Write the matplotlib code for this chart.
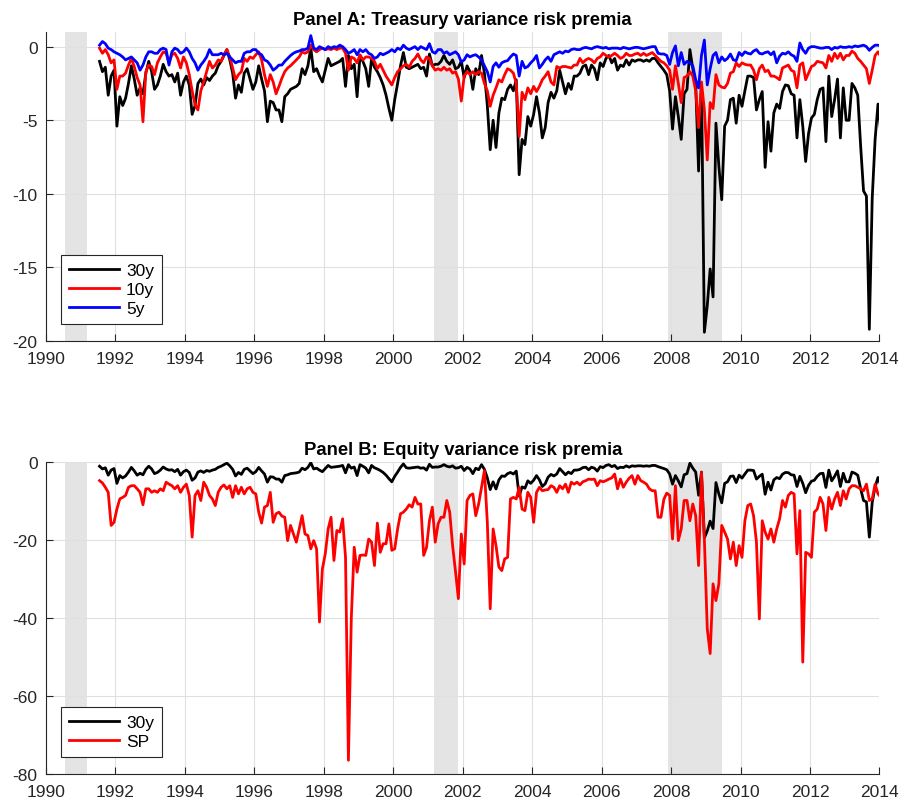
import numpy as np
import matplotlib.pyplot as plt

plt.rcParams['font.family'] = ['Liberation Sans', 'DejaVu Sans']
plt.rcParams['axes.unicode_minus'] = False

# monthly series, first value is July 1991
thirty_y = [
    -1.0, -1.7, -1.4, -3.3, -2.0, -1.6,
    -5.4, -3.4, -4.0, -3.5, -2.5, -1.3, -2.2, -3.3, -2.8, -3.2, -1.8, -1.0,
    -1.7, -2.9, -2.6, -2.0, -1.2, -1.7, -2.0, -1.9, -2.4, -1.8, -3.3, -2.4,
    -2.0, -2.6, -4.6, -4.0, -2.5, -2.2, -2.6, -2.1, -2.3, -2.0, -1.8, -1.3,
    -1.0, -0.6, -0.2, -0.9, -1.8, -3.5, -2.6, -3.1, -1.8, -1.5, -2.2, -2.9,
    -2.4, -1.3, -2.2, -3.0, -5.1, -3.7, -3.8, -4.3, -4.3, -5.1, -3.4, -3.2,
    -2.9, -2.8, -2.7, -2.5, -1.5, -1.9, -1.3, -0.1, -1.7, -1.5, -2.0, -2.4,
    -1.6, -0.8, -1.3, -1.2, -1.1, -1.0, -0.8, -2.7, -0.6, -1.5, -1.2, -3.4,
    -0.6, -1.0, -1.5, -2.7, -0.8, -1.4, -1.7, -2.1, -2.6, -3.3, -4.2, -5.0,
    -3.6, -2.5, -1.3, -0.4, -1.4, -1.5, -1.4, -1.3, -1.2, -1.5, -1.4, -2.0,
    -0.5, -1.3, -1.2, -1.2, -1.0, -0.6, -1.0, -1.2, -0.9, -1.5, -1.4, -1.0,
    -2.1, -1.3, -1.7, -2.9, -1.5, -1.9, -0.6, -1.8, -4.0, -7.0, -5.0, -6.85,
    -4.5, -3.5, -3.6, -2.9, -2.6, -3.0, -2.25, -8.7, -6.3, -6.65, -4.75, -5.4,
    -4.6, -3.4, -4.5, -6.2, -5.5, -3.8, -3.1, -3.5, -3.0, -1.6, -2.4, -3.2,
    -2.5, -2.9, -2.0, -2.0, -1.8, -1.35, -1.25, -1.9, -1.25, -1.5, -2.25, -1.1,
    -1.35, -0.8, -0.6, -1.1, -0.8, -1.6, -1.25, -1.35, -0.9, -1.25, -0.9, -1.0,
    -0.9, -0.9, -1.0, -0.9, -1.0, -0.8, -0.8, -1.1, -1.35, -1.6, -1.9, -3.0,
    -5.6, -3.4, -4.75, -6.3, -3.2, -2.9, -0.2, -1.5, -2.5, -8.45, -2.5, -19.4,
    -17.6, -15.1, -17.0, -5.2, -8.1, -10.4, -5.4, -5.0, -3.6, -3.5, -5.2, -3.3,
    -4.05, -3.0, -2.0, -2.0, -2.1, -4.3, -3.6, -3.05, -8.2, -5.1, -7.1, -4.5,
    -3.9, -4.2, -3.05, -2.6, -2.65, -3.2, -3.3, -6.2, -3.6, -5.4, -7.8, -5.9,
    -4.85, -4.6, -3.6, -2.9, -2.8, -6.45, -2.0, -4.75, -3.6, -2.2, -6.2, -2.8,
    -5.0, -5.0, -2.5, -2.8, -3.3, -6.75, -9.8, -10.15, -19.2, -10.3, -6.3, -3.9,
    -5.9]

ten_y = [
    -0.1, -0.45, -0.2, -0.55, -1.1, -0.9,
    -2.9, -2.0, -2.0, -1.8, -1.25, -0.8, -1.35, -2.1, -2.6, -5.1, -1.7, -1.25,
    -1.35, -1.9, -1.1, -0.7, -0.35, -0.45, -1.1, -0.55, -0.45, -0.8, -1.45, -0.7,
    -1.1, -1.9, -3.0, -3.95, -4.3, -3.0, -2.4, -1.7, -1.0, -1.45, -1.25, -0.9,
    -1.0, -0.55, -0.2, -0.7, -1.45, -2.25, -1.9, -1.7, -0.8, -1.0, -0.7, -0.8,
    -0.55, -0.35, -0.9, -1.9, -2.7, -1.9, -2.4, -3.2, -2.7, -2.15, -1.7, -1.45,
    -1.3, -1.1, -0.9, -0.7, -0.35, -0.45, -0.35, 0.1, -0.2, -0.35, -0.2, -0.1,
    -0.2, -0.15, -0.2, -0.1, -0.2, -0.1, -0.1, -0.45, -1.6, -0.7, -0.8, -1.1,
    -0.55, -0.9, -0.7, -0.7, -0.8, -1.0, -1.5, -1.2, -1.6, -2.0, -2.3, -2.6,
    -2.1, -1.7, -1.5, -1.3, -1.2, -1.4, -1.0, -0.8, -0.5, -0.9, -1.1, -0.7,
    -0.8, -1.3, -1.6, -1.5, -1.6, -1.4, -1.6, -1.5, -1.8, -1.7, -2.2, -3.7,
    -2.0, -1.7, -1.9, -1.7, -1.9, -1.7, -1.8, -2.5, -3.0, -4.05, -3.3, -2.8,
    -2.25, -2.4, -1.9, -1.5, -1.6, -1.8, -2.5, -6.1, -3.1, -3.6, -2.8, -3.2,
    -2.7, -3.05, -2.7, -2.25, -2.0, -1.7, -2.4, -2.6, -1.35, -1.45, -1.35, -1.35,
    -1.4, -1.45, -1.25, -1.25, -0.8, -1.1, -0.9, -0.8, -0.9, -1.1, -0.8, -0.7,
    -0.45, -0.6, -0.7, -0.6, -0.45, -0.6, -0.8, -0.7, -0.45, -0.6, -0.6, -0.5,
    -0.45, -0.6, -0.45, -0.6, -0.5, -0.4, -0.6, -0.8, -1.0, -1.1, -1.3, -1.6,
    -2.9, -1.3, -2.5, -3.8, -2.1, -2.0, -1.7, -2.0, -3.0, -5.5, -2.4, -4.3,
    -7.7, -3.8, -4.2, -1.9, -2.6, -2.75, -2.8, -2.5, -1.8, -1.7, -1.1, -1.35,
    -1.1, -1.2, -1.25, -1.25, -1.6, -2.25, -1.5, -1.25, -1.7, -1.6, -2.0, -2.0,
    -2.1, -2.25, -1.45, -1.35, -1.25, -1.6, -1.7, -2.8, -1.25, -1.1, -2.25, -1.8,
    -1.35, -1.25, -1.0, -1.05, -1.1, -1.45, -0.6, -1.0, -0.45, -0.8, -0.45, -0.9,
    -0.6, -0.6, -0.3, -0.45, -0.8, -1.0, -1.25, -1.5, -2.5, -1.6, -0.6, -0.35,
    -0.7]

five_y = [
    0.1, 0.35, 0.2, -0.1, -0.2, -0.35,
    -0.45, -0.55, -0.7, -0.9, -0.8, -0.7, -0.9, -1.1, -1.6, -1.25, -0.7, -0.35,
    -0.35, -0.45, -0.45, -0.2, -0.1, -0.2, -1.25, -0.35, -0.1, -0.2, -0.45, -0.35,
    -0.1, -0.35, -0.8, -1.1, -1.6, -1.25, -1.0, -0.7, -0.2, -0.55, -0.55, -0.55,
    -0.45, -0.55, -0.45, -0.7, -0.9, -1.1, -1.0, -1.0, -0.45, -0.35, -0.35, -0.2,
    -0.2, -0.45, -0.55, -0.9, -1.0, -1.25, -1.6, -1.45, -1.25, -1.25, -1.0, -0.8,
    -0.6, -0.45, -0.35, -0.3, -0.2, -0.2, -0.1, 0.75, -0.1, -0.2, 0.0, -0.1,
    -0.2, 0.0, -0.1, 0.0, -0.05, 0.1, 0.0, -0.2, -0.45, -0.35, -0.2, -0.55,
    -0.2, -0.35, -0.2, -0.45, -0.55, -0.8, -0.7, -0.45, -0.55, -0.45, -0.35, -0.2,
    -0.35, -0.1, -0.2, 0.1, -0.1, -0.2, -0.1, 0.0, -0.2, 0.0, -0.1, -0.2,
    0.2, -0.35, -0.45, -0.2, -0.2, -0.45, -0.35, -0.55, -0.45, -0.35, -0.55, -1.05,
    -0.9, -0.55, -0.7, -0.6, -0.55, -0.7, -0.9, -1.3, -1.7, -2.4, -1.35, -1.1,
    -1.4, -1.1, -1.0, -0.95, -0.7, -0.5, -0.6, -2.0, -1.0, -1.45, -1.35, -1.1,
    -0.9, -0.6, -1.45, -1.2, -0.9, -0.7, -1.0, -0.55, -0.45, -0.35, -0.45, -0.3,
    -0.35, -0.2, -0.15, -0.2, -0.2, -0.1, -0.05, -0.1, -0.15, -0.05, 0.0, -0.05,
    -0.1, -0.05, -0.15, -0.1, -0.1, -0.1, -0.15, -0.05, -0.1, -0.15, -0.1, -0.05,
    -0.05, -0.1, -0.15, -0.1, -0.05, 0.0, 0.0, -0.45, -0.5, -0.5, -0.6, -1.2,
    -0.4, 0.05, -1.3, -0.4, -1.2, -1.0, -1.1, -1.3, -2.25, -2.8, -0.6, 0.45,
    -2.6, -1.5, -0.6, -0.4, -1.1, -0.7, -0.95, -0.8, -0.5, -0.9, -0.95, -0.4,
    -0.6, -0.35, -0.45, -0.5, -0.3, -0.2, -0.45, -0.5, -0.4, -0.35, -0.55, -0.35,
    -1.1, -0.65, -0.45, -0.5, -0.35, -0.55, -0.65, -1.0, 0.25, -0.2, -0.45, -0.1,
    0.0, 0.0, -0.05, -0.1, -0.1, -0.05, -0.05, -0.2, -0.05, -0.1, 0.0, -0.05,
    -0.05, 0.0, -0.05, 0.05, 0.0, 0.05, 0.1, 0.0, -0.25, -0.05, 0.1, 0.1,
    0.05]

sp = [
    -4.7, -5.3, -6.4, -7.7, -16.2, -15.4,
    -12.0, -9.4, -9.0, -8.5, -6.4, -6.0, -6.0, -6.8, -7.7, -10.9, -6.8, -6.8,
    -7.7, -7.3, -7.7, -6.8, -7.3, -5.1, -5.6, -6.0, -6.8, -6.0, -7.7, -6.4,
    -5.6, -8.5, -19.2, -8.5, -7.3, -9.8, -5.1, -6.4, -8.5, -9.4, -11.1, -7.7,
    -6.4, -5.8, -6.8, -6.0, -9.0, -6.0, -8.1, -6.4, -8.1, -6.8, -6.4, -7.7,
    -8.1, -12.8, -15.6, -11.5, -11.1, -7.7, -15.4, -13.2, -12.8, -13.8, -14.1, -20.1,
    -16.2, -18.4, -20.5, -17.1, -13.7, -18.4, -18.8, -22.2, -20.1, -22.2, -41.0, -27.4,
    -23.5, -17.1, -14.1, -25.2, -17.5, -17.9, -14.5, -24.4, -76.5, -40.0, -21.8, -28.2,
    -23.9, -23.8, -23.9, -19.7, -20.5, -26.5, -15.6, -23.1, -20.9, -20.9, -15.8, -22.6,
    -22.2, -17.1, -13.2, -12.8, -12.0, -10.9, -11.5, -9.0, -10.7, -10.7, -23.9, -21.8,
    -15.0, -11.5, -20.5, -15.8, -14.1, -14.1, -9.8, -12.8, -21.4, -28.0, -35.0, -18.4,
    -26.1, -9.8, -8.5, -8.1, -13.7, -10.7, -6.4, -2.1, -15.4, -37.6, -17.1, -21.4,
    -26.9, -27.8, -24.8, -24.4, -9.4, -9.0, -9.4, -6.4, -12.0, -12.4, -7.7, -9.0,
    -15.4, -7.7, -6.4, -7.3, -7.1, -7.0, -6.0, -6.4, -7.7, -6.0, -6.8, -5.6,
    -7.7, -5.1, -5.6, -5.1, -5.8, -5.0, -4.7, -4.3, -4.4, -4.3, -6.0, -4.7,
    -5.0, -4.7, -4.3, -4.0, -3.0, -6.8, -4.3, -6.4, -5.1, -4.1, -3.4, -5.6,
    -3.4, -4.7, -5.1, -5.6, -6.8, -7.3, -7.3, -14.1, -14.1, -9.5, -7.9, -8.5,
    -19.7, -6.0, -20.1, -17.1, -9.8, -9.8, -15.0, -10.7, -13.7, -26.5, -2.6, -19.7,
    -42.7, -49.1, -31.2, -35.5, -31.2, -16.2, -17.9, -19.7, -24.8, -20.5, -26.5, -21.4,
    -24.4, -15.0, -11.1, -10.7, -13.7, -20.5, -40.2, -15.0, -17.9, -19.7, -17.1, -20.5,
    -17.1, -14.5, -9.8, -11.5, -8.5, -7.7, -8.1, -23.5, -12.4, -51.3, -23.1, -23.5,
    -24.4, -12.8, -12.0, -9.0, -10.7, -17.5, -9.0, -12.0, -9.4, -7.7, -11.1, -7.3,
    -9.4, -6.8, -6.0, -6.0, -6.4, -6.8, -7.3, -5.6, -9.8, -9.4, -5.6, -8.1,
    -9.0]

# NBER recessions (start, end) in decimal years
recessions = [(1990.54, 1991.17), (2001.17, 2001.87), (2007.92, 2009.46)]
year_ticks = list(range(1990, 2016, 2))


def month_axis(series):
    # mid-month dates starting July 1991
    return 1991 + (6 + np.arange(len(series)) + 0.5) / 12


def style_axis(ax, ylim, yticks):
    for a, b in recessions:
        ax.axvspan(a, b, color='#e4e4e4', lw=0, zorder=0)
    ax.set_xlim(1990, 2014)
    ax.set_ylim(*ylim)
    ax.set_xticks(year_ticks)
    ax.set_yticks(yticks)
    ax.grid(True, color='#e0e0e0', lw=0.8, zorder=0.5)
    ax.set_axisbelow(True)
    ax.spines['top'].set_visible(False)
    ax.spines['right'].set_visible(False)
    for s in ['left', 'bottom']:
        ax.spines[s].set_color('#262626')
        ax.spines[s].set_linewidth(0.8)
    ax.tick_params(direction='in', length=5, width=0.8, colors='#262626',
                   labelsize=12.5, labelcolor='#262626')
    ax.tick_params(axis='x', pad=7)
    ax.tick_params(axis='y', pad=6)


def add_legend(ax):
    leg = ax.legend(loc='lower left', bbox_to_anchor=(0.018, 0.055), fontsize=12.5,
                    handlelength=2.9, handletextpad=0.4, fancybox=False,
                    edgecolor='#262626', framealpha=1, borderpad=0.45,
                    labelspacing=0.22, borderaxespad=0)
    leg.get_frame().set_linewidth(0.8)


fig = plt.figure(figsize=(9.02, 8.03), dpi=100)

# Panel A
ax1 = fig.add_axes([0.051, 0.574, 0.924, 0.385])
style_axis(ax1, (-20, 1), [0, -5, -10, -15, -20])
ax1.plot(month_axis(thirty_y), thirty_y, color='black', lw=2.0, label='30y')
ax1.plot(month_axis(ten_y), ten_y, color='red', lw=2.0, label='10y')
ax1.plot(month_axis(five_y), five_y, color='blue', lw=2.0, label='5y')
ax1.set_title('Panel A: Treasury variance risk premia', fontsize=13.3,
              fontweight='bold', pad=6)
add_legend(ax1)

# Panel B
ax2 = fig.add_axes([0.051, 0.035, 0.924, 0.388])
style_axis(ax2, (-80, 0), [0, -20, -40, -60, -80])
ax2.plot(month_axis(thirty_y), thirty_y, color='black', lw=2.0, label='30y')
ax2.plot(month_axis(sp), sp, color='red', lw=2.0, label='SP')
ax2.set_title('Panel B: Equity variance risk premia', fontsize=13.3,
              fontweight='bold', pad=6)
add_legend(ax2)

fig.savefig('out.png', dpi=100)
